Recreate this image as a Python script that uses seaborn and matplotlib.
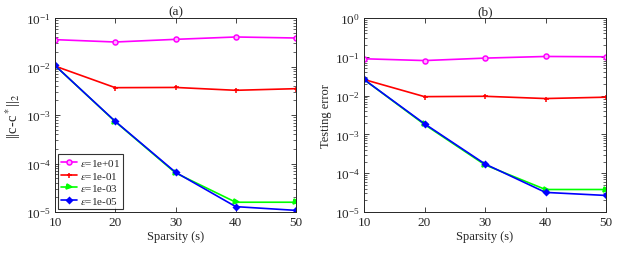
import numpy as np
import pandas as pd
import matplotlib
matplotlib.use("Agg")
import matplotlib.pyplot as plt
import seaborn as sns
from matplotlib.ticker import LogLocator, NullFormatter

sparsity = [10, 20, 30, 40, 50]
labels = ["$\\epsilon$=1e+01", "$\\epsilon$=1e-01", "$\\epsilon$=1e-03", "$\\epsilon$=1e-05"]
err_a = {
    labels[0]: [0.0358, 0.0320, 0.0363, 0.0406, 0.0387],
    labels[1]: [0.0102, 0.00366, 0.0037, 0.00323, 0.00349],
    labels[2]: [0.0105, 7.3e-4, 6.4e-5, 1.59e-5, 1.59e-5],
    labels[3]: [0.0105, 7.4e-4, 6.6e-5, 1.29e-5, 1.08e-5],
}
err_b = {
    labels[0]: [0.089, 0.080, 0.0925, 0.102, 0.100],
    labels[1]: [0.026, 0.0094, 0.0096, 0.0084, 0.0091],
    labels[2]: [0.026, 1.8e-3, 1.64e-4, 3.8e-5, 3.8e-5],
    labels[3]: [0.026, 1.88e-3, 1.73e-4, 3.2e-5, 2.67e-5],
}
colors = ["#ff00ff", "#ff0000", "#00ff00", "#0000ff"]
markers = ["o", "+", ">", "D"]
faces = ["#ffb3ff", "#ff0000", "#00ff00", "#0000ff"]

sns.set_theme(style="white")
plt.rcParams["font.family"] = ["Liberation Serif", "DejaVu Serif"]
plt.rcParams["mathtext.fontset"] = "stix"
plt.rcParams["text.color"] = "#262626"
plt.rcParams["axes.labelcolor"] = "#262626"
plt.rcParams["xtick.color"] = "#262626"
plt.rcParams["ytick.color"] = "#262626"

fig = plt.figure(figsize=(6.37, 2.55), dpi=100)
ax1 = fig.add_axes([55/637, 1-213/255, 241/637, 194/255])
ax2 = fig.add_axes([364/637, 1-213/255, 242/637, 194/255])

for ax, d, ylim, ylabel, ylfs, title in [
    (ax1, err_a, (1e-5, 1e-1), "||c-c$^*$||$_2$", 10.5, "(a)"),
    (ax2, err_b, (1e-5, 1e0), "Testing error", 9, "(b)"),
]:
    for lab, c, m, fc in zip(labels, colors, markers, faces):
        df = pd.DataFrame({"s": sparsity, "err": d[lab]})
        sns.lineplot(data=df, x="s", y="err", color=c, marker=m, linewidth=1.2,
                     markersize=3.6 if m != "D" else 3.0, markeredgewidth=1.1,
                     markeredgecolor=c, markerfacecolor=fc, label=lab, ax=ax)
    ax.set_yscale("log")
    ax.set_xlim(10, 50)
    ax.set_ylim(*ylim)
    ax.set_xticks(sparsity)
    ax.yaxis.set_major_locator(LogLocator(base=10, numticks=10))
    ax.yaxis.set_minor_locator(LogLocator(base=10, subs=np.arange(2, 10), numticks=20))
    ax.yaxis.set_minor_formatter(NullFormatter())
    ax.tick_params(direction="in", which="both", top=True, right=True,
                   bottom=True, left=True, labelsize=9.5, pad=3)
    ax.tick_params(which="major", length=3.5, width=0.6)
    ax.tick_params(which="minor", length=2, width=0.5)
    ax.set_xlabel("Sparsity (s)", fontsize=9, labelpad=1)
    ax.set_ylabel(ylabel, fontsize=ylfs, labelpad=2)
    ax.set_title(title, fontsize=9.5, pad=3)
    for sp in ax.spines.values():
        sp.set_color("#262626")
        sp.set_linewidth(0.7)

ax2.get_legend().remove()
leg = ax1.legend(loc="lower left", fontsize=8, frameon=True, fancybox=False,
                 edgecolor="black", borderpad=0.25, labelspacing=0.15,
                 handlelength=1.4, handletextpad=0.3, borderaxespad=0.3)
leg.get_frame().set_linewidth(0.8)

fig.savefig("out.png", dpi=100)
